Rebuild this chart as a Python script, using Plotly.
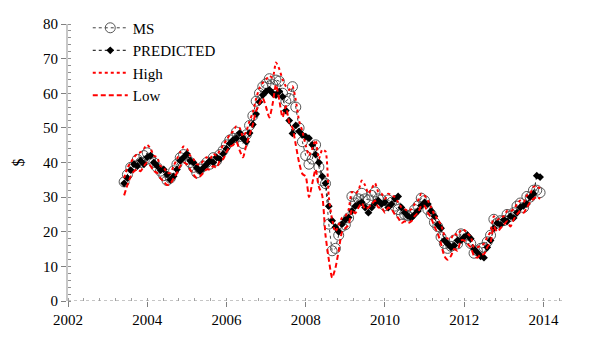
import plotly.graph_objects as go

start_year = 2003
start_month = 6

ms = [34.4, 36.5, 38.6, 39.0, 40.9, 40.0, 42.0,
      42.8, 41.0, 40.0, 38.6, 37.5, 36.2, 34.8, 35.5, 37.6, 39.5, 41.4, 42.3,
      41.0, 40.0, 38.6, 37.0, 38.1, 39.0, 40.0, 39.5, 41.4, 40.5, 42.3, 43.5,
      45.1, 46.5, 47.0, 48.8, 47.5, 45.5, 48.0, 50.7, 53.5, 57.7, 60.0, 61.9,
      62.8, 64.2, 62.5, 63.8, 63.5, 60.0, 57.7, 58.5, 61.9, 56.0, 50.0, 46.0,
      42.0, 39.5, 41.0, 45.1, 38.7, 34.7, 33.9, 22.2, 14.5, 15.2, 19.0, 21.5,
      22.0, 24.0, 30.2, 28.3, 29.5, 31.1, 29.5, 29.2, 30.5, 31.5, 29.5, 29.2,
      27.5, 29.2, 28.5, 27.4, 26.4, 25.0, 25.0, 24.6, 25.0, 26.4, 27.5, 29.7,
      29.0, 26.4, 25.0, 22.7, 21.5, 18.5, 16.6, 15.2, 15.8, 17.6, 16.5, 19.4,
      19.0, 18.0, 16.6, 13.8, 14.5, 15.2, 15.5, 17.1, 19.0, 23.6, 22.5, 23.2,
      23.2, 25.0, 24.5, 25.5, 27.4, 28.3, 27.0, 30.2, 30.0, 32.0, 32.0, 31.3]

predicted = [34.0, 35.5, 37.8, 39.5, 39.0, 40.5, 39.5,
             41.5, 42.0, 40.0, 39.0, 37.8, 38.0, 36.5, 35.0, 36.0, 38.0, 40.5, 41.5,
             42.5, 40.5, 40.0, 38.5, 37.5, 38.5, 39.5, 40.5, 40.0, 41.5, 41.0, 42.5,
             44.0, 45.5, 46.5, 47.0, 48.5, 47.0, 46.0, 48.5, 51.0, 54.0, 57.5, 59.5,
             60.5, 61.0, 60.0, 59.5, 60.5, 59.0, 55.0, 52.1, 48.4, 50.7, 49.0, 48.0,
             47.5, 47.0, 45.1, 42.3, 40.0, 36.0, 34.0, 27.4, 23.2, 21.3, 20.0, 22.2,
             23.5, 24.1, 26.0, 27.4, 28.0, 28.5, 27.0, 25.5, 27.0, 28.3, 29.0, 28.0,
             28.5, 27.0, 28.0, 29.5, 30.2, 27.0, 25.5, 24.5, 24.0, 25.0, 26.0, 27.5,
             28.5, 28.0, 26.0, 24.5, 22.0, 21.0, 17.5, 16.5, 15.5, 16.0, 17.5, 17.5,
             18.5, 19.0, 18.0, 15.0, 14.0, 12.9, 12.5, 15.5, 17.5, 21.0, 22.5, 22.0,
             23.5, 23.0, 24.5, 24.0, 25.5, 27.0, 27.5, 28.0, 30.0, 31.0, 36.2, 35.8]

high = [35.5, 38.5, 40.0, 41.5, 42.5, 43.0, 44.0,
        45.1, 44.0, 42.0, 41.5, 39.0, 38.5, 37.0, 37.0, 39.0, 41.0, 43.0, 44.6,
        44.0, 42.0, 41.0, 39.5, 39.5, 40.5, 41.5, 41.0, 42.5, 42.0, 43.5, 45.0,
        46.5, 48.0, 49.0, 50.5, 50.0, 47.5, 49.0, 52.0, 54.5, 58.5, 61.5, 63.0,
        64.0, 65.0, 64.5, 68.9, 67.0, 64.0, 62.0, 61.0, 62.0, 58.0, 52.0, 49.0,
        45.0, 42.0, 44.0, 46.5, 41.0, 43.7, 43.2, 30.0, 23.6, 20.0, 22.0, 24.0,
        24.5, 26.4, 31.5, 31.0, 32.0, 34.8, 33.4, 31.0, 32.5, 34.0, 31.5, 31.0,
        29.5, 31.0, 30.5, 30.0, 28.5, 27.0, 26.5, 26.0, 26.5, 28.0, 29.0, 31.0,
        30.5, 29.0, 27.0, 25.0, 23.5, 22.0, 19.0, 18.0, 18.0, 19.5, 19.0, 20.5,
        20.5, 19.5, 18.5, 15.5, 15.5, 16.0, 16.5, 18.5, 20.0, 24.5, 23.5, 24.0,
        24.5, 26.0, 26.0, 26.5, 28.0, 29.0, 28.5, 30.5, 31.0, 33.0, 33.0, 32.5]

low = [30.5, 33.5, 36.0, 37.5, 38.0, 37.5, 39.0,
       40.0, 39.0, 37.5, 37.0, 35.5, 34.5, 33.5, 33.9, 35.5, 37.0, 39.0, 40.0,
       39.5, 38.0, 36.5, 35.5, 36.0, 37.0, 38.0, 38.0, 39.0, 38.5, 40.5, 41.0,
       43.0, 44.5, 45.0, 46.0, 43.5, 41.5, 45.0, 48.0, 51.0, 55.0, 57.0, 58.6,
       56.0, 53.0, 57.0, 62.5, 58.0, 53.0, 56.3, 51.6, 50.0, 45.1, 40.0, 36.7,
       36.0, 30.0, 34.0, 38.0, 33.0, 30.5, 19.0, 12.0, 6.7, 9.5, 14.5, 19.9,
       21.0, 22.0, 26.4, 25.3, 27.0, 28.3, 26.5, 27.0, 28.0, 29.0, 27.0, 27.0,
       25.5, 27.0, 26.5, 25.0, 24.0, 22.5, 23.0, 22.5, 23.0, 24.5, 25.5, 27.5,
       27.5, 25.5, 24.0, 21.5, 19.5, 16.5, 13.0, 11.9, 13.0, 15.0, 14.5, 17.5,
       17.5, 16.5, 15.5, 13.0, 12.5, 13.5, 13.5, 15.5, 17.0, 21.5, 20.0, 21.0,
       22.0, 23.0, 21.5, 23.5, 25.0, 26.0, 25.5, 27.0, 28.5, 29.5, 30.0, 29.5]

x_major_ticks = [2002, 2004, 2006, 2008, 2010, 2012, 2014]
y_major_ticks = [0, 10, 20, 30, 40, 50, 60, 70, 80]

n = len(ms)
x = [start_year + (start_month - 1 + i) / 12.0 for i in range(n)]

serif = "Liberation Serif, DejaVu Serif, serif"
fig = go.Figure()
fig.add_trace(go.Scatter(
    x=x, y=ms, name="MS", mode="lines+markers",
    line=dict(color="#404040", width=1, dash="dot"),
    marker=dict(symbol="circle-open", size=10, color="#555555", line=dict(width=1)),
))
fig.add_trace(go.Scatter(
    x=x, y=predicted, name="PREDICTED", mode="lines+markers",
    line=dict(color="black", width=1, dash="dot"),
    marker=dict(symbol="diamond", size=6, color="black"),
))
fig.add_trace(go.Scatter(
    x=x, y=high, name="High", mode="lines",
    line=dict(color="red", width=2, dash="dot", shape="spline", smoothing=0.6),
))
fig.add_trace(go.Scatter(
    x=x, y=low, name="Low", mode="lines",
    line=dict(color="red", width=2, dash="5px,3px", shape="spline", smoothing=0.6),
))

fig.add_shape(type="line", xref="paper", yref="y", x0=0, x1=1, y0=0, y1=0,
              line=dict(color="#8c8c8c", width=1, dash="dot"), layer="below")

fig.update_layout(
    width=605, height=340,
    margin=dict(l=68, r=43, t=15, b=39),
    paper_bgcolor="white", plot_bgcolor="white",
    font=dict(family=serif, size=15, color="black"),
    showlegend=True,
    legend=dict(x=0.04, y=1.045, xanchor="left", yanchor="top",
                bgcolor="rgba(0,0,0,0)", font=dict(family=serif, size=15),
                itemwidth=35, tracegroupgap=0),
    xaxis=dict(range=[2002, 2014.47], tickvals=x_major_ticks,
               ticktext=[str(v) for v in x_major_ticks],
               showgrid=False, zeroline=False, showline=False,
               ticks="outside", ticklen=5, tickcolor="#808080",
               minor=dict(dtick=0.4, tick0=2002, ticks="inside", ticklen=3, tickcolor="#a0a0a0"),
               tickfont=dict(family=serif, size=15)),
    yaxis=dict(range=[0, 80], tickvals=y_major_ticks,
               showgrid=False, zeroline=False,
               showline=True, linecolor="#c8c8c8", linewidth=2,
               ticks="outside", ticklen=5, tickcolor="#808080",
               minor=dict(dtick=2, ticks="inside", ticklen=3, tickcolor="#909090"),
               tickfont=dict(family=serif, size=15),
               title=dict(text="$", font=dict(family=serif, size=16), standoff=14)),
)

fig.write_html("out.html")
